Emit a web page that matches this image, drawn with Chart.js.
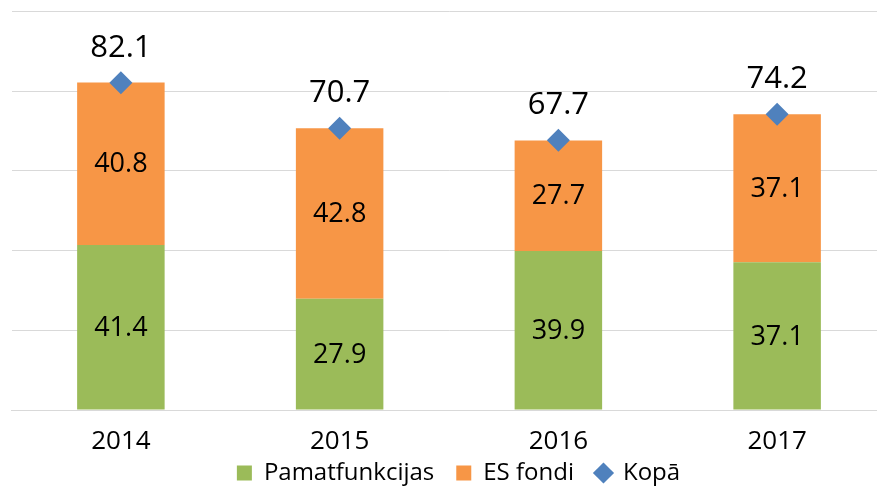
<!DOCTYPE html>
<html>
<head>
<meta charset="utf-8">
<script src="https://cdn.jsdelivr.net/npm/chart.js@4.4.1/dist/chart.umd.min.js"></script>
<style>
  html, body { margin: 0; padding: 0; background: #fff; overflow: hidden; width: 877px; height: 486px; }
  #wrap { width: 917px; height: 495px; }
</style>
</head>
<body>
<div id="wrap"><canvas id="c" width="917" height="495"></canvas></div>
<script>
const categories = ['2014', '2015', '2016', '2017'];
const pamatfunkcijas = [41.4, 27.9, 39.9, 37.1];
const esFondi = [40.8, 42.8, 27.7, 37.1];
const kopa = [82.1, 70.7, 67.7, 74.2];
const seriesNames = ['Pamatfunkcijas', 'ES fondi', 'Kopā'];
const yMin = 0, yMax = 100, yStep = 20;

const FONT = '"Open Sans", "DejaVu Sans", sans-serif';
const legendStyles = ['rect', 'rect', 'rectRot'];
const LEGEND_FIT_PAD = 7, LEGEND_GAP = 22;

const valueLabels = {
  id: 'valueLabels',
  afterDatasetsDraw(chart) {
    const ctx = chart.ctx;
    ctx.save();
    ctx.fillStyle = '#000';
    ctx.textAlign = 'center';
    ctx.textBaseline = 'middle';
    ctx.font = '27px ' + FONT;
    [0, 1].forEach(di => {
      const meta = chart.getDatasetMeta(di);
      meta.data.forEach((el, i) => {
        const v = chart.data.datasets[di].data[i];
        ctx.fillText(v.toFixed(1), el.x, (el.y + el.base) / 2 + 1);
      });
    });
    ctx.font = '31px ' + FONT;
    const meta = chart.getDatasetMeta(2);
    meta.data.forEach((el, i) => {
      ctx.fillText(chart.data.datasets[2].data[i].toFixed(1), el.x, el.y - 35);
    });
    ctx.restore();
  }
};

// widen horizontal spacing of legend items without changing its vertical placement
const legendSpacing = {
  id: 'legendSpacing',
  beforeDraw(chart) {
    const lg = chart.legend;
    if (!lg || lg._spaced) return;
    const extra = LEGEND_GAP - LEGEND_FIT_PAD;
    lg.options.labels.padding = LEGEND_GAP;
    lg.top -= extra;
    lg.lineWidths[0] += extra * lg.legendItems.length;
    lg._spaced = true;
  }
};

new Chart(document.getElementById('c'), {
  type: 'bar',
  data: {
    labels: categories,
    datasets: [
      {
        label: seriesNames[0], data: pamatfunkcijas, backgroundColor: '#9bbb59',
        borderWidth: 0, stack: 'bars', barPercentage: 0.4, categoryPercentage: 1
      },
      {
        label: seriesNames[1], data: esFondi, backgroundColor: '#f79646',
        borderWidth: 0, stack: 'bars', barPercentage: 0.4, categoryPercentage: 1
      },
      {
        type: 'line', label: seriesNames[2], data: kopa, stack: 'kopa', order: -1,
        showLine: false, pointStyle: 'rectRot', pointRadius: 11.5, pointHoverRadius: 11.5,
        pointBorderWidth: 0, backgroundColor: '#4f81bd', borderColor: '#4f81bd'
      }
    ]
  },
  options: {
    responsive: false,
    animation: false,
    devicePixelRatio: 1,
    layout: { padding: { left: 10.5, right: 10.5, top: 11, bottom: 0 } },
    scales: {
      x: {
        stacked: true,
        grid: { display: false, drawTicks: true, tickLength: 20 },
        border: { display: true, color: '#d9d9d9', width: 1 },
        ticks: { color: '#000', padding: -1, font: { family: FONT, size: 26, lineHeight: 1 } }
      },
      y: {
        stacked: true, min: yMin, max: yMax,
        ticks: { display: false, stepSize: yStep },
        grid: { color: '#d9d9d9', lineWidth: 1, drawTicks: false },
        border: { display: false }
      },
      yRight: {
        position: 'right', min: yMin, max: yMax,
        ticks: { display: false },
        grid: { display: false, drawTicks: false },
        border: { display: false },
        afterFit(scale) { scale.width = 20; }
      }
    },
    plugins: {
      tooltip: { enabled: false },
      legend: {
        position: 'bottom',
        labels: {
          usePointStyle: true, boxWidth: 15, boxHeight: 15, padding: LEGEND_FIT_PAD,
          color: '#000', font: { family: FONT, size: 24 },
          generateLabels(chart) {
            const items = Chart.defaults.plugins.legend.labels.generateLabels(chart);
            items.forEach(it => { it.pointStyle = legendStyles[it.datasetIndex]; it.lineWidth = 0; it.strokeStyle = 'rgba(0,0,0,0)'; });
            items.sort((a, b) => a.datasetIndex - b.datasetIndex);
            return items;
          }
        }
      }
    }
  },
  plugins: [valueLabels, legendSpacing]
});
</script>
</body>
</html>
